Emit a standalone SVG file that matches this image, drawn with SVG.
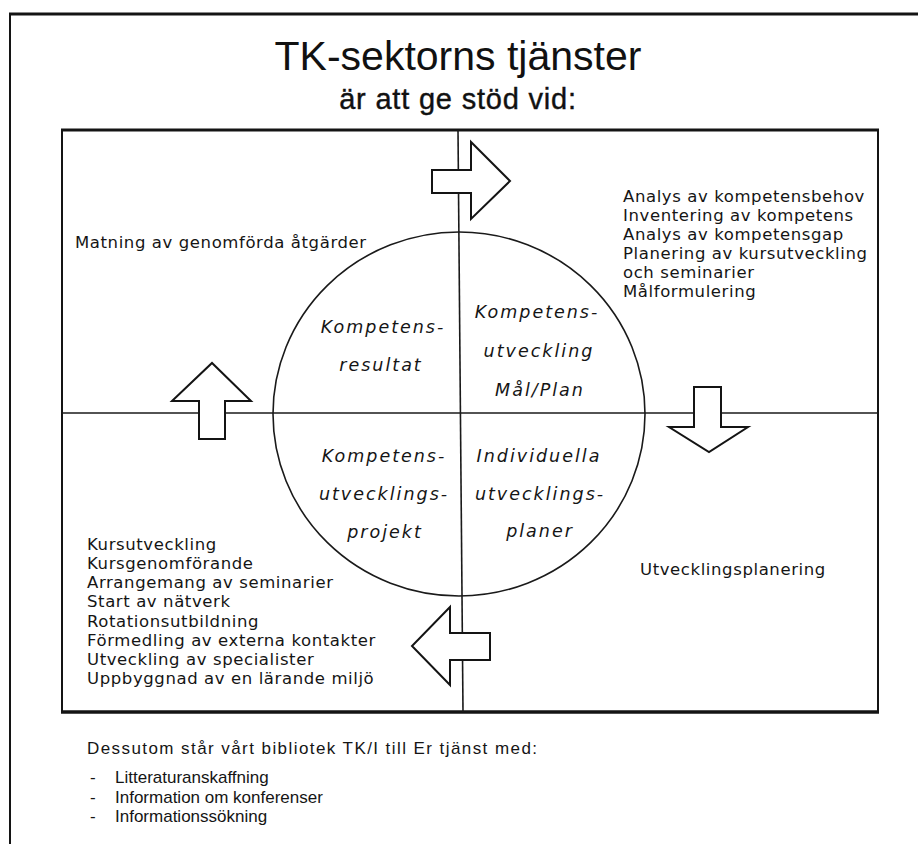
<svg xmlns="http://www.w3.org/2000/svg" width="918" height="844" viewBox="0 0 918 844">
  <style>
    .frame { fill: none; stroke: #141414; }
    .rule { stroke: #1a1a1a; stroke-width: 1.6; fill: none; }
    .arrow { fill: #ffffff; stroke: #141414; stroke-width: 2; stroke-linejoin: miter; }
    .title { font-family: "Liberation Sans", Arial, sans-serif; fill: #111; text-anchor: middle; }
    .list { font-family: "DejaVu Sans", "Liberation Sans", sans-serif; font-size: 16.5px; letter-spacing: 0.6px; fill: #151515; }
    .quad { font-family: "DejaVu Sans", "Liberation Sans", sans-serif; font-size: 17.5px; font-style: italic; letter-spacing: 2px; fill: #151515; text-anchor: middle; }
    .lib { font-family: "Liberation Sans", Arial, sans-serif; font-size: 17px; fill: #151515; }
  </style>

  <rect width="918" height="844" fill="#ffffff"/>

  <!-- page frame: top and left edges -->
  <line x1="9" y1="14" x2="918" y2="14" class="frame" stroke-width="3.2"/>
  <line x1="10" y1="13" x2="10" y2="844" class="frame" stroke-width="2"/>

  <!-- heading -->
  <g id="heading">
    <text class="title" x="458" y="70" font-size="41">TK-sektorns tjänster</text>
    <text class="title" x="458" y="109" font-size="29" letter-spacing="0.8" stroke="#111" stroke-width="0.4">är att ge stöd vid:</text>
  </g>

  <!-- main box with quadrant rules and circle -->
  <g id="board">
    <rect x="62" y="130" width="816" height="582" class="frame" stroke-width="2"/>
    <line x1="61" y1="130" x2="879" y2="130" class="frame" stroke-width="3"/>
    <line x1="61" y1="712" x2="879" y2="712" class="frame" stroke-width="3.4"/>
    <line x1="62" y1="413" x2="878" y2="413" class="rule"/>
    <line x1="458" y1="130" x2="463" y2="712" class="rule"/>
    <ellipse cx="459" cy="414" rx="186" ry="182" class="rule"/>
  </g>

  <!-- cycle arrows between quadrants -->
  <g id="connectors">
    <polygon class="arrow" points="432,170 471,170 471,142 510,181 471,219 471,193 432,193"/>
    <polygon class="arrow" points="694,387 721,387 721,427 748,427 709,452 669,427 694,427"/>
    <polygon class="arrow" points="490,633 450,633 450,607 412,646 450,685 450,660 490,660"/>
    <polygon class="arrow" points="199,439 199,401 172,401 212,363 251,401 225,401 225,439"/>
  </g>

  <!-- quadrant labels inside the circle -->
  <g id="q-resultat">
    <text class="quad" x="383" y="333">Kompetens-</text>
    <text class="quad" x="381" y="371">resultat</text>
  </g>
  <g id="q-utveckling">
    <text class="quad" x="537" y="318">Kompetens-</text>
    <text class="quad" x="539" y="357">utveckling</text>
    <text class="quad" x="540" y="396">Mål/Plan</text>
  </g>
  <g id="q-projekt">
    <text class="quad" x="384" y="462">Kompetens-</text>
    <text class="quad" x="384" y="500">utvecklings-</text>
    <text class="quad" x="385" y="538">projekt</text>
  </g>
  <g id="q-planer">
    <text class="quad" x="539" y="462">Individuella</text>
    <text class="quad" x="540" y="500">utvecklings-</text>
    <text class="quad" x="540" y="537">planer</text>
  </g>

  <!-- activities per quadrant -->
  <g id="matning">
    <text class="list" x="75" y="248">Matning av genomförda åtgärder</text>
  </g>
  <g id="analys">
    <text class="list" x="623" y="202">Analys av kompetensbehov</text>
    <text class="list" x="623" y="221">Inventering av kompetens</text>
    <text class="list" x="623" y="240">Analys av kompetensgap</text>
    <text class="list" x="623" y="259">Planering av kursutveckling</text>
    <text class="list" x="623" y="278">och seminarier</text>
    <text class="list" x="623" y="297">Målformulering</text>
  </g>
  <g id="utvecklingsplanering">
    <text class="list" x="640" y="575">Utvecklingsplanering</text>
  </g>
  <g id="kurser">
    <text class="list" x="87" y="550">Kursutveckling</text>
    <text class="list" x="87" y="569">Kursgenomförande</text>
    <text class="list" x="87" y="588">Arrangemang av seminarier</text>
    <text class="list" x="87" y="607">Start av nätverk</text>
    <text class="list" x="87" y="627">Rotationsutbildning</text>
    <text class="list" x="87" y="646">Förmedling av externa kontakter</text>
    <text class="list" x="87" y="665">Utveckling av specialister</text>
    <text class="list" x="87" y="684">Uppbyggnad av en lärande miljö</text>
  </g>

  <!-- library services -->
  <g id="bibliotek">
    <text class="lib" x="87" y="754" font-size="18" textLength="450" lengthAdjust="spacing">Dessutom står vårt bibliotek TK/I till Er tjänst med:</text>
    <text class="lib" x="90" y="783">-</text>
    <text class="lib" x="115" y="783">Litteraturanskaffning</text>
    <text class="lib" x="90" y="803">-</text>
    <text class="lib" x="115" y="803">Information om konferenser</text>
    <text class="lib" x="90" y="822">-</text>
    <text class="lib" x="115" y="822">Informationssökning</text>
  </g>
</svg>
